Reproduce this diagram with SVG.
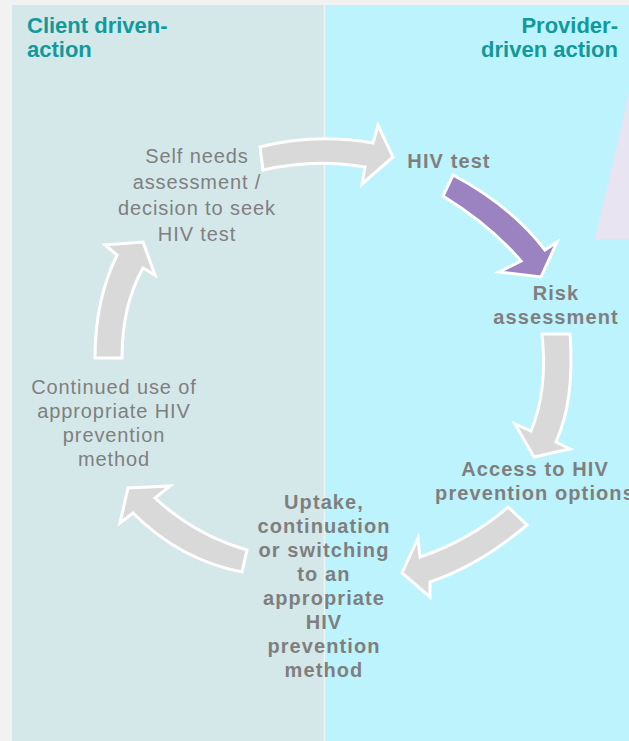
<svg xmlns="http://www.w3.org/2000/svg" width="629" height="741" viewBox="0 0 629 741">
<style>
.hd{font-family:"Liberation Sans",Arial,sans-serif;font-weight:bold;font-size:22px;fill:#12999b}
.rg{font-family:"Liberation Sans",Arial,sans-serif;font-size:20px;fill:#7f7f7f;letter-spacing:0.9px;text-anchor:middle}
.bd{font-family:"Liberation Sans",Arial,sans-serif;font-weight:bold;font-size:20px;fill:#7f7f7f;letter-spacing:1.1px;text-anchor:middle}
.ar{fill:#d9d9d9;stroke:#ffffff;stroke-width:3;stroke-linejoin:miter}
.ap{fill:#9b82c0;stroke:#ffffff;stroke-width:3;stroke-linejoin:miter}
</style>
<rect x="0" y="0" width="629" height="741" fill="#f2f2f2"/>
<g id="panels">
<rect x="12" y="5" width="312" height="736" fill="#d4e8ea"/>
<rect x="325" y="5" width="304" height="736" fill="#bdf3fd"/>
<line x1="324.5" y1="5" x2="324.5" y2="741" stroke="#eef4f4" stroke-width="1.5"/>
<polygon points="595,239 629,93 629,239" fill="#e8e4f2"/>
</g>
<g id="headings">
<text class="hd" x="27" y="33">Client driven-</text>
<text class="hd" x="27" y="57">action</text>
<text class="hd" x="618" y="33" text-anchor="end">Provider-</text>
<text class="hd" x="618" y="57" text-anchor="end">driven action</text>
</g>
<g id="connectors">
<path class="ar" d="M260,147 Q315,133 373,143 L378,125 L393,157 L362,184 L365,167 Q315,158 263,170 Z"/>
<path class="ap" d="M453,175 Q510,205 545,250 L557,242 L541,277 L499,272 L521,261 Q490,225 443,196 Z"/>
<path class="ar" d="M542,334 L570,334 Q575,400 556,442 L570,449 L534,457 L515,424 L531,431 Q548,390 542,334 Z"/>
<path class="ar" d="M508,507 L527,525 Q480,565 430,582 L430,597 L402,573 L418,538 L420,557 Q470,540 508,507 Z"/>
<path class="ar" d="M247,550 Q195,535 155,498 L170,486 L128,488 L120,523 L133,513 Q180,560 242,572 Z"/>
<path class="ar" d="M95,358 Q95,300 117,255 L105,245 L143,242 L155,275 L143,268 Q122,305 122,358 Z"/>
</g>
<g id="node-self">
<text class="rg" x="197" y="163">Self needs</text>
<text class="rg" x="197" y="189">assessment /</text>
<text class="rg" x="197" y="215">decision to seek</text>
<text class="rg" x="197" y="241">HIV test</text>
</g>
<g id="node-hivtest">
<text class="bd" x="449" y="168">HIV test</text>
</g>
<g id="node-risk">
<text class="bd" x="556" y="300">Risk</text>
<text class="bd" x="556" y="324">assessment</text>
</g>
<g id="node-access">
<text class="bd" x="535" y="476">Access to HIV</text>
<text class="bd" x="535" y="500">prevention options</text>
</g>
<g id="node-uptake">
<text class="bd" x="324" y="509">Uptake,</text>
<text class="bd" x="324" y="533">continuation</text>
<text class="bd" x="324" y="557">or switching</text>
<text class="bd" x="324" y="581">to an</text>
<text class="bd" x="324" y="605">appropriate</text>
<text class="bd" x="324" y="629">HIV</text>
<text class="bd" x="324" y="653">prevention</text>
<text class="bd" x="324" y="677">method</text>
</g>
<g id="node-continued">
<text class="rg" x="114" y="394">Continued use of</text>
<text class="rg" x="114" y="418">appropriate HIV</text>
<text class="rg" x="114" y="442">prevention</text>
<text class="rg" x="114" y="466">method</text>
</g>
</svg>
